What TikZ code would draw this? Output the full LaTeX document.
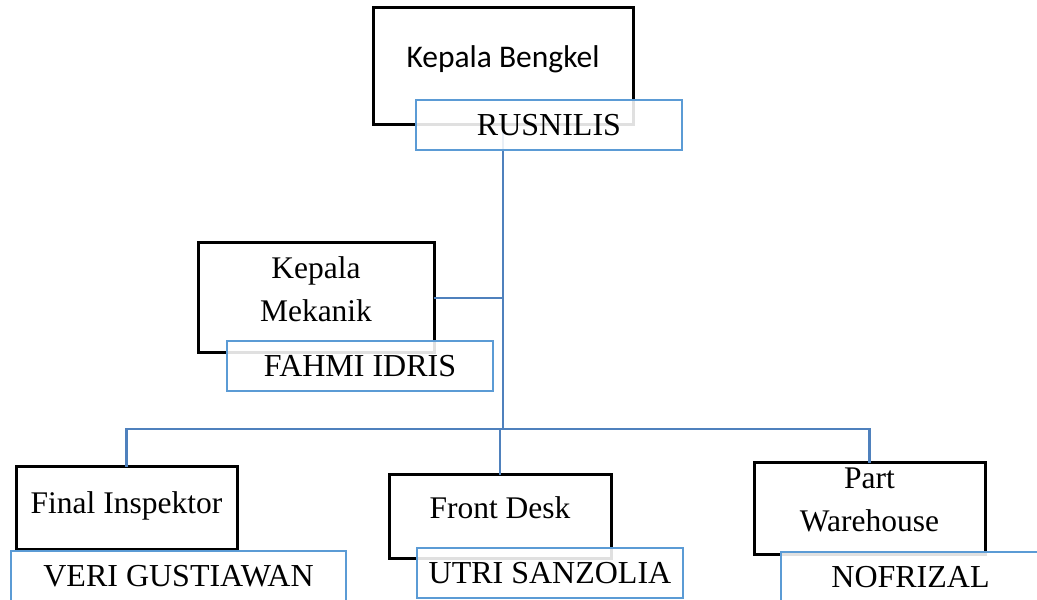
\documentclass[tikz,border=0pt]{standalone}
\usepackage{fontspec}
\setmainfont{Liberation Serif}
\newfontfamily\carlito{Carlito}
\usepackage{tikz}
\definecolor{lineBlue}{HTML}{4F81BD}
\definecolor{boxBlue}{HTML}{5B9BD5}
\tikzstyle{block} = [draw,rectangle, fill=white,line width=3pt,inner sep=0pt,outer sep=0pt,align=center,font=\fontsize{31.5}{43}\selectfont,text depth=18.5pt]
\tikzstyle{nameBlock} = [draw=boxBlue,rectangle,fill=white,fill opacity=0.88,text opacity=1,line width=2.6pt,inner sep=0pt,outer sep=0pt,minimum height=50pt,font=\fontsize{32}{38}\selectfont]
\tikzstyle{line} = [draw=lineBlue,line width=2.6pt]

\begin{document}
\begin{tikzpicture}[x=1pt,y=1pt]
		\clip (0,0) rectangle (1037,600);
		\node[block,minimum width=260pt,minimum height=117pt,font=\carlito\fontsize{31.5}{43}\selectfont,text depth=20pt](bengkel) at (503,533.5){Kepala Bengkel};
		\node[block,minimum width=236pt,minimum height=110pt](mekanik) at (316,302){Kepala\\Mekanik};
		\node[block,minimum width=221pt,minimum height=83pt,text depth=11.5pt](inspektor) at (126.5,91.5){Final Inspektor};
		\node[block,minimum width=222pt,minimum height=84pt](frontDesk) at (500,83){Front Desk};
		\node[block,minimum width=231pt,minimum height=92pt](warehouse) at (869.5,91){Part\\Warehouse};
		\coordinate (hub) at (503,171);
		%lines
		\path[line](bengkel.south)--(hub);
		\path[line](mekanik.east)--(mekanik.east -| hub);
		\path[line](inspektor.north)|-(hub)-|(warehouse.north);
		\path[line](hub)-|(frontDesk.north);
		%names
		\node[nameBlock,minimum width=266pt,anchor=north west](rusnilis) at ([shift={(43pt,25pt)}]bengkel.south west){RUSNILIS};
		\node[nameBlock,minimum width=266pt,anchor=north west](fahmi) at ([shift={(29pt,12pt)}]mekanik.south west){FAHMI IDRIS};
		\node[nameBlock,minimum width=335pt,anchor=north west](veri) at ([shift={(-5pt,-1pt)}]inspektor.south west){VERI GUSTIAWAN};
		\node[nameBlock,minimum width=266pt,anchor=north west](utri) at ([shift={(28pt,11pt)}]frontDesk.south west){UTRI SANZOLIA};
		\node[nameBlock,minimum width=259pt,anchor=north west](nofrizal) at ([shift={(27pt,3pt)}]warehouse.south west){NOFRIZAL};
\end{tikzpicture}
\end{document}
